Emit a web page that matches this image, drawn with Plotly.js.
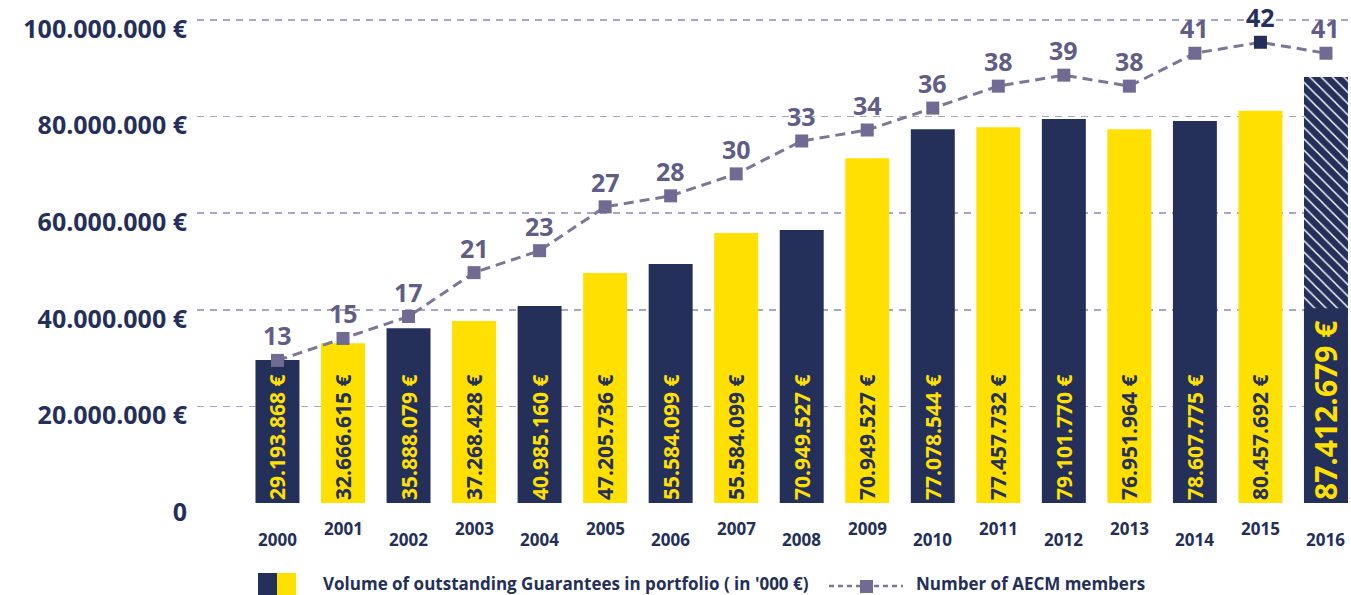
<!DOCTYPE html>
<html><head><meta charset="utf-8">
<script src="https://cdn.plot.ly/plotly-3.0.1.min.js"></script>
<style>html,body{margin:0;padding:0;background:#fff}#chart{width:1351px;height:595px}</style>
</head><body><div id="chart"></div>
<script>
// ---- data ----
const years = ['2000','2001','2002','2003','2004','2005','2006','2007','2008','2009','2010','2011','2012','2013','2014','2015','2016'];
const volumes = [29.6e6, 33.1e6, 36.2e6, 37.7e6, 40.8e6, 47.6e6, 49.5e6, 55.9e6, 56.5e6, 71.4e6, 77.4e6, 77.8e6, 79.5e6, 77.4e6, 79.1e6, 81.2e6, 88.2e6];
const volumeLabels = ['29.193.868 €','32.666.615 €','35.888.079 €','37.268.428 €','40.985.160 €','47.205.736 €','55.584.099 €','55.584.099 €','70.949.527 €','70.949.527 €','77.078.544 €','77.457.732 €','79.101.770 €','76.951.964 €','78.607.775 €','80.457.692 €','87.412.679 €'];
const members = [13,15,17,21,23,27,28,30,33,34,36,38,39,38,41,42,41];
const solidBase2016 = [40.3e6];
const yTickValues = [0, 20e6, 40e6, 60e6, 80e6, 100e6];
const yTickLabels = ['0','20.000.000 €','40.000.000 €','60.000.000 €','80.000.000 €','100.000.000 €'];
const legendBars = "Volume of outstanding Guarantees in portfolio ( in '000 €)";
const legendLine = 'Number of AECM members';

// ---- styling ----
const NAVY = '#24305a', YELLOW = '#ffe000', LINEC = '#7d7699', MARK = '#716b94', LAB = '#615d87';
const FONT = 'Open Sans, DejaVu Sans, sans-serif';
const last = years.length - 1;
const barColors = years.map((y, i) => i % 2 === 0 ? NAVY : YELLOW);
const textColors = years.map((y, i) => i % 2 === 0 ? YELLOW : NAVY);
const patternShapes = years.map((y, i) => i === last ? '\\' : '');
const barTexts = volumeLabels.map((t, i) => i === last ? '' : t);
const markerColors = members.map((m, i) => i === years.length - 2 ? NAVY : MARK);
const labelColors = members.map((m, i) => i === years.length - 2 ? NAVY : LAB);

// plot geometry (pixels)
const L = 197, R = 1351, TOP = 5, ZERO = 503;
const PW = R - L, PH = ZERO - TOP;
const pxPerM = 4.83, pxPerMember = 10.97;
const px = x => (x - L) / PW;
const py = y => (ZERO - y) / PH;

const traces = [
  {
    type: 'bar', x: years, y: volumes, width: 0.671,
    marker: {color: barColors, line: {width: 0},
      pattern: {shape: patternShapes, fillmode: 'overlay', fgcolor: '#ffffff', fgopacity: 1, size: 8, solidity: 0.18}},
    text: barTexts, textposition: 'inside', insidetextanchor: 'start', textangle: -90,
    constraintext: 'none',
    textfont: {family: FONT, size: 21, weight: 700, color: textColors},
    hoverinfo: 'skip', showlegend: false, cliponaxis: false
  },
  {
    type: 'bar', x: [years[last]], y: solidBase2016, width: 0.671,
    marker: {color: NAVY, line: {width: 0}},
    text: [volumeLabels[last]], textposition: 'inside', insidetextanchor: 'start', textangle: -90,
    constraintext: 'none',
    textfont: {family: FONT, size: 30, weight: 700, color: YELLOW},
    hoverinfo: 'skip', showlegend: false
  },
  {
    type: 'scatter', mode: 'lines+markers', x: years, y: members, yaxis: 'y2',
    line: {color: LINEC, width: 3, dash: '10px,6px'},
    marker: {symbol: 'square', size: 13, color: markerColors},
    hoverinfo: 'skip', showlegend: false, cliponaxis: false
  }
];

const annotations = [];
years.forEach((yr, i) => {
  annotations.push({x: i, y: 0, xref: 'x', yref: 'y', text: yr, showarrow: false,
    yshift: i % 2 === 0 ? -36 : -25, yanchor: 'middle',
    font: {family: FONT, size: 17, weight: 700, color: NAVY}});
  annotations.push({x: i, y: members[i], xref: 'x', yref: 'y2', text: String(members[i]), showarrow: false,
    yshift: 25, yanchor: 'middle', borderpad: 0,
    font: {family: FONT, size: 25, weight: 700, color: labelColors[i]}});
});
annotations.push({x: px(322), y: py(583), xref: 'paper', yref: 'paper', xanchor: 'left', yanchor: 'middle',
  text: legendBars, showarrow: false, borderpad: 0, font: {family: FONT, size: 17, weight: 700, color: NAVY}});
annotations.push({x: px(915), y: py(583), xref: 'paper', yref: 'paper', xanchor: 'left', yanchor: 'middle',
  text: legendLine, showarrow: false, borderpad: 0, font: {family: FONT, size: 17, weight: 700, color: NAVY}});

const shapes = [
  {type: 'rect', xref: 'paper', yref: 'paper', x0: px(258), x1: px(277), y0: py(573), y1: py(596), fillcolor: NAVY, line: {width: 0}},
  {type: 'rect', xref: 'paper', yref: 'paper', x0: px(277), x1: px(296), y0: py(573), y1: py(596), fillcolor: YELLOW, line: {width: 0}},
  {type: 'line', xref: 'paper', yref: 'paper', x0: px(829), x1: px(903), y0: py(586), y1: py(586), line: {color: LINEC, width: 2.5, dash: '5px,4px'}},
  {type: 'rect', xref: 'paper', yref: 'paper', x0: px(860), x1: px(873), y0: py(580), y1: py(593), fillcolor: MARK, line: {width: 0}}
];

const layout = {
  width: 1351, height: 595,
  margin: {l: L, r: 1351 - R, t: TOP, b: 595 - ZERO},
  paper_bgcolor: '#ffffff', plot_bgcolor: '#ffffff',
  barmode: 'overlay', showlegend: false,
  font: {family: FONT, color: NAVY},
  xaxis: {type: 'category', range: [-1.228, 16.382], showticklabels: false, showgrid: false, zeroline: false, showline: false, ticks: '', fixedrange: true},
  yaxis: {range: [0, PH / pxPerM * 1e6], tickvals: yTickValues, ticktext: yTickLabels,
    showgrid: true, gridcolor: '#a9a6c6', gridwidth: 1.5, griddash: '7px,6px', zeroline: false, showline: false,
    ticks: '', ticklabelstandoff: 9, ticklabelshift: 9,
    tickfont: {family: FONT, size: 25, weight: 700, color: NAVY}, fixedrange: true},
  yaxis2: {overlaying: 'y', side: 'right', range: [0, PH / pxPerMember], visible: false, showgrid: false, zeroline: false},
  annotations: annotations, shapes: shapes
};

Plotly.newPlot('chart', traces, layout, {displayModeBar: false, staticPlot: true});
</script>
</body></html>
